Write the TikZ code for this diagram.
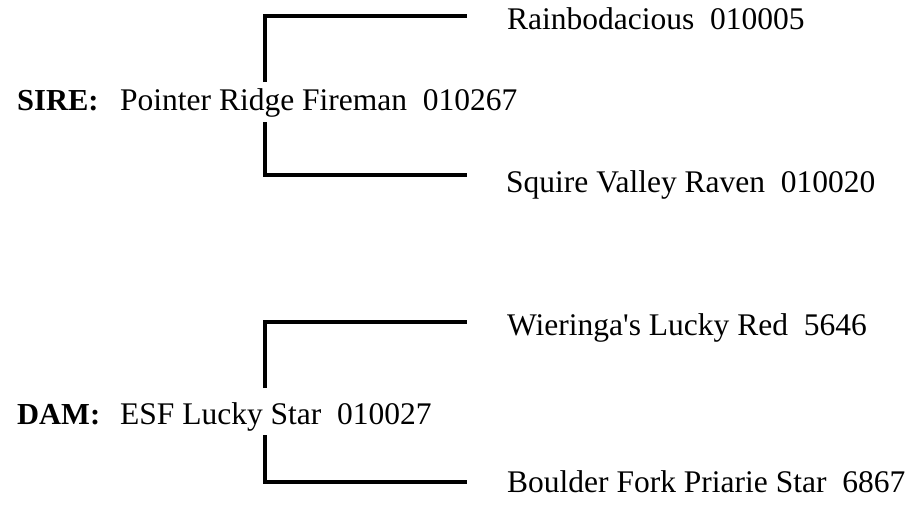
\documentclass[tikz,border=0pt]{standalone}
\usepackage{fontspec}
\setmainfont{Liberation Serif}[Ligatures=TeXOff]
\begin{document}
\begin{tikzpicture}[x=1pt,y=-1pt,
  txt/.style={inner sep=0pt, anchor=base west, font=\fontsize{31.5}{36}\selectfont},
  lbl/.style={inner sep=0pt, anchor=base west, font=\fontsize{30.5}{36}\selectfont\bfseries},
  bracket/.style={line width=4pt, black}]
\useasboundingbox (0,0) rectangle (911,504);
% Sire
\node[lbl] (sirelbl) at (17,110) {SIRE:};
\node[txt] (sire) at (120,110) {Pointer Ridge Fireman\ \ 010267};
\node[txt] (sireS) at (507,29) {Rainbodacious\ \ 010005};
\node[txt] (sireD) at (506,192) {Squire Valley Raven\ \ 010020};
\coordinate (sireup) at (265,82);
\coordinate (siredown) at (265,122);
\coordinate (sireSend) at (467,15.5);
\coordinate (sireDend) at (467,175);
\draw[bracket] (sireup) |- (sireSend);
\draw[bracket] (siredown) |- (sireDend);
% Dam
\node[lbl] (damlbl) at (17,424) {DAM:};
\node[txt] (dam) at (120,424) {ESF Lucky Star\ \ 010027};
\node[txt] (damS) at (507,335) {Wieringa's Lucky Red\ \ 5646};
\node[txt] (damD) at (507,492) {Boulder Fork Priarie Star\ \ 6867};
\coordinate (damup) at (265,388);
\coordinate (damdown) at (265,435);
\coordinate (damSend) at (467,322);
\coordinate (damDend) at (467,482);
\draw[bracket] (damup) |- (damSend);
\draw[bracket] (damdown) |- (damDend);
\end{tikzpicture}
\end{document}
